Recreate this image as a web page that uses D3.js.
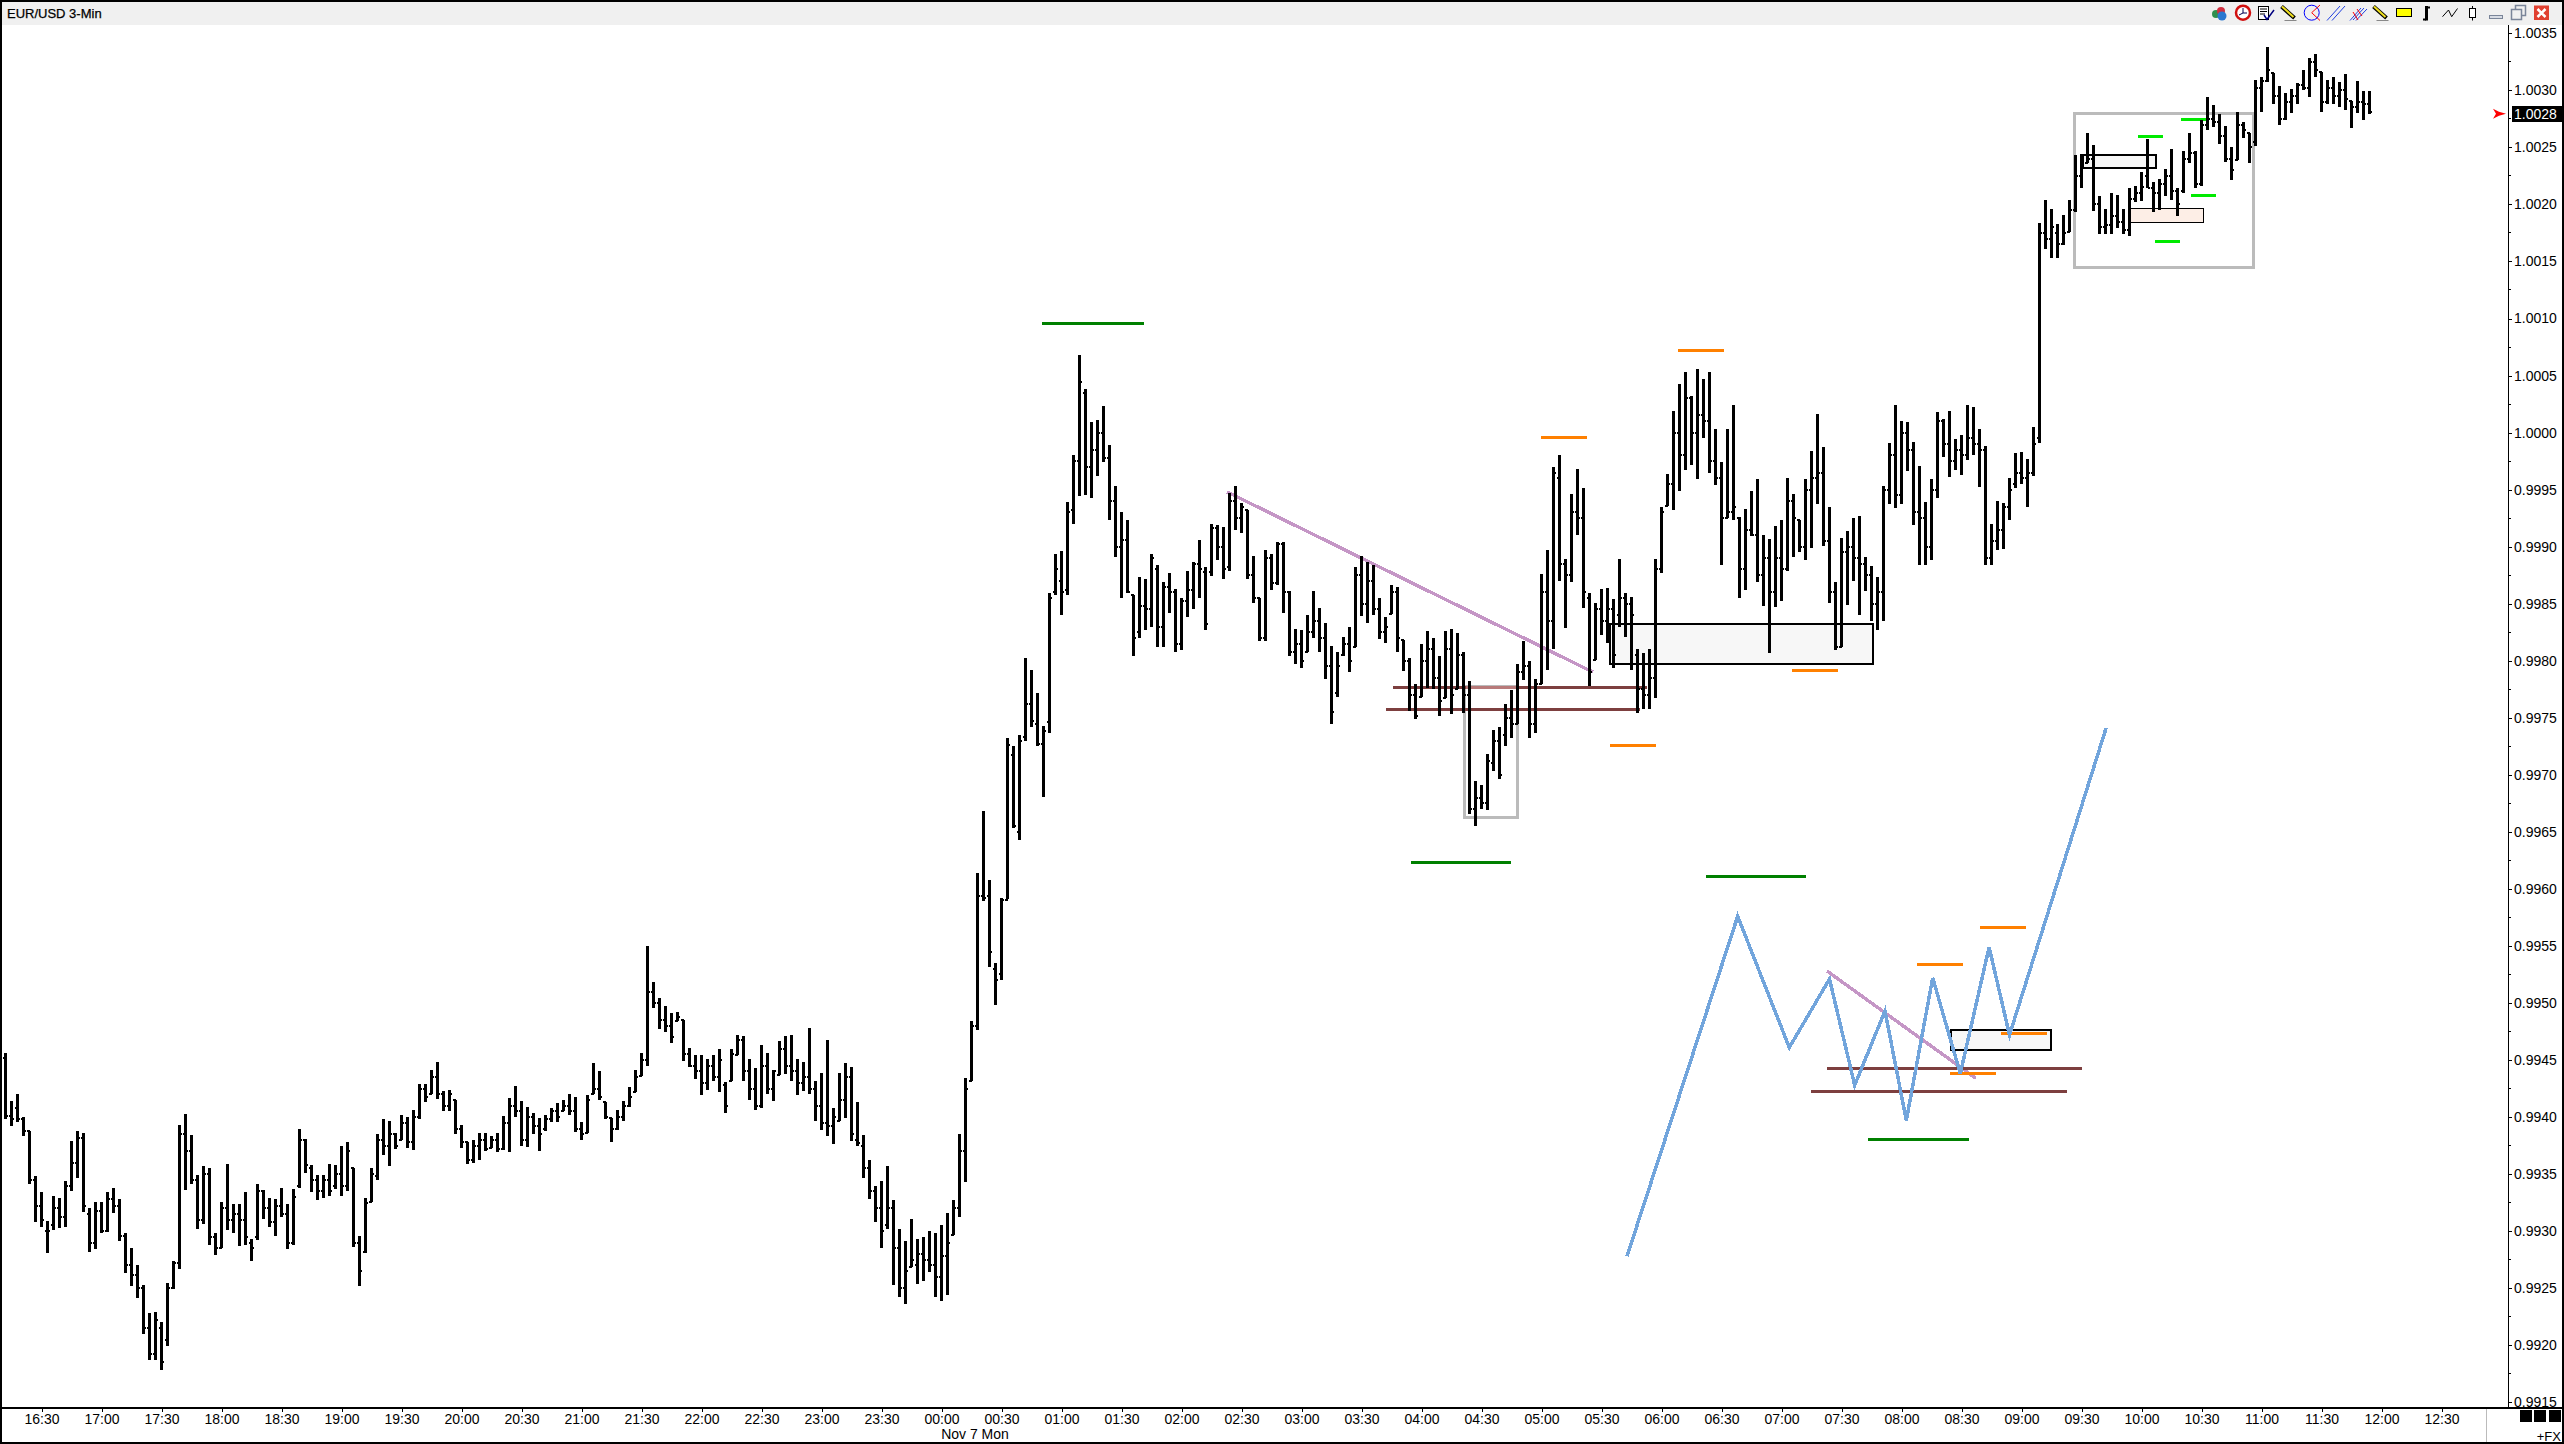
<!DOCTYPE html>
<html><head><meta charset="utf-8">
<script src="https://d3js.org/d3.v7.min.js"></script>
<style>
html,body{margin:0;padding:0;background:#fff;overflow:hidden}
svg{display:block}
text{font-family:"Liberation Sans",Arial,sans-serif;font-size:14px;fill:#000}
</style></head><body>
<svg id="c" width="2564" height="1444"></svg>
<script>
const title="EUR/USD 3-Min", dateLabel="Nov 7 Mon", lastPrice=1.0028;
const timeLabels=["16:30","17:00","17:30","18:00","18:30","19:00","19:30","20:00","20:30","21:00","21:30","22:00","22:30","23:00","23:30","00:00","00:30","01:00","01:30","02:00","02:30","03:00","03:30","04:00","04:30","05:00","05:30","06:00","06:30","07:00","07:30","08:00","08:30","09:00","09:30","10:00","10:30","11:00","11:30","12:00","12:30"];
const priceLabels=["1.0035","1.0030","1.0025","1.0020","1.0015","1.0010","1.0005","1.0000","0.9995","0.9990","0.9985","0.9980","0.9975","0.9970","0.9965","0.9960","0.9955","0.9950","0.9945","0.9940","0.9935","0.9930","0.9925","0.9920","0.9915"];
const highs=[0.99456,0.99414,0.99420,0.99400,0.99388,0.99348,0.99334,0.99309,0.99331,0.99329,0.99344,0.99379,0.99388,0.99386,0.99320,0.99326,0.99326,0.99334,0.99338,0.99328,0.99298,0.99285,0.99270,0.99253,0.99228,0.99229,0.99220,0.99255,0.99274,0.99393,0.99403,0.99384,0.99349,0.99357,0.99355,0.99298,0.99326,0.99359,0.99324,0.99324,0.99334,0.99293,0.99341,0.99336,0.99329,0.99328,0.99338,0.99324,0.99337,0.99390,0.99381,0.99358,0.99349,0.99349,0.99359,0.99358,0.99375,0.99378,0.99355,0.99296,0.99329,0.99355,0.99385,0.99398,0.99397,0.99386,0.99402,0.99400,0.99406,0.99429,0.99429,0.99441,0.99448,0.99423,0.99424,0.99415,0.99393,0.99378,0.99380,0.99386,0.99386,0.99383,0.99386,0.99401,0.99417,0.99427,0.99414,0.99409,0.99404,0.99399,0.99402,0.99408,0.99412,0.99415,0.99420,0.99418,0.99396,0.99419,0.99447,0.99440,0.99413,0.99399,0.99406,0.99414,0.99426,0.99441,
0.99456,0.99550,0.99518,0.99504,0.99497,0.99491,0.99492,0.99485,0.99461,0.99454,0.99454,0.99451,0.99454,0.99460,0.99431,0.99460,0.99472,0.99471,0.99451,0.99443,0.99463,0.99456,0.99441,0.99467,0.99471,0.99472,0.99451,0.99448,0.99478,0.99432,0.99439,0.99468,0.99408,0.99439,0.99447,0.99444,0.99413,0.99384,0.99362,0.99340,0.99344,0.99357,0.99327,0.99302,0.99291,0.99311,0.99293,0.99295,0.99300,0.99298,0.99305,0.99316,0.99327,0.99385,0.99434,0.99484,0.99614,0.99668,0.99608,0.99535,0.99592,
0.99732,0.99725,0.99735,0.99802,0.99792,0.99772,0.99743,0.99859,0.99894,0.99896,0.99939,0.99980,1.00068,1.00038,1.00009,1.00011,1.00023,0.99989,0.99953,0.99930,0.99923,0.99858,0.99873,0.99872,0.99894,0.99884,0.99869,0.99877,0.99863,0.99855,0.99879,0.99887,0.99906,0.99882,0.99920,0.99919,0.99917,0.99947,0.99953,0.99938,0.99932,0.99892,0.99855,0.99897,0.99894,0.99904,0.99904,0.99861,0.99828,0.99827,0.99840,0.99861,0.99846,0.99833,0.99813,0.99808,0.99821,0.99830,0.99882,0.99892,0.99887,0.99884,0.99855,0.99838,0.99866,0.99865,0.99818,0.99802,0.99780,0.99815,0.99826,0.99820,0.99804,0.99826,0.99828,0.99824,0.99808,0.99782,0.99695,0.99691,0.99718,0.99739,0.99742,0.99762,0.99774,0.99797,0.99817,0.99800,0.99784,0.99876,0.99897,0.99970,0.99980,
0.99889,0.99946,0.99968,0.99951,0.99859,0.99851,0.99863,0.99864,0.99854,0.99889,0.99859,0.99856,0.99810,0.99807,0.99810,0.99889,0.99935,0.99964,1.00019,1.00043,1.00053,1.00032,1.00056,1.00047,1.00053,1.00003,0.99974,1.00003,1.00024,0.99926,0.99933,0.99949,0.99959,0.99910,0.99907,0.99918,0.99923,0.99960,0.99946,0.99923,0.99959,0.99984,1.00016,0.99987,0.99935,0.99869,0.99908,0.99914,0.99925,0.99927,0.99891,0.99883,0.99873,0.99953,0.99991,1.00024,1.00010,1.00009,0.99992,0.99971,0.99939,0.99959,1.00018,1.00012,1.00019,0.99994,0.99998,1.00024,1.00022,1.00003,0.99988,0.99920,0.99940,0.99938,0.99960,0.99982,0.99983,0.99977,1.00005,1.00184,
1.00204,1.00196,1.00183,1.00191,1.00204,1.00243,1.00244,1.00263,1.00252,1.00207,1.00196,1.00210,1.00208,1.00196,1.00214,1.00216,1.00228,1.00257,1.00220,1.00222,1.00231,1.00249,1.00214,1.00247,1.00263,1.00247,1.00274,1.00294,1.00287,1.00279,1.00269,1.00250,1.00281,1.00272,1.00263,1.00309,1.00312,1.00338,1.00315,1.00304,1.00298,1.00301,1.00306,1.00318,1.00328,1.00332,1.00316,1.00309,1.00312,1.00307,1.00314,1.00291,1.00308,1.00299,1.00299];
const lows=[0.99398,0.99392,0.99396,0.99383,0.99341,0.99308,0.99304,0.99281,0.99301,0.99303,0.99304,0.99335,0.99347,0.99317,0.99282,0.99284,0.99298,0.99299,0.99316,0.99291,0.99263,0.99252,0.99241,0.99210,0.99187,0.99187,0.99178,0.99199,0.99249,0.99267,0.99336,0.99341,0.99302,0.99306,0.99288,0.99279,0.99285,0.99301,0.99298,0.99287,0.99288,0.99274,0.99292,0.99311,0.99304,0.99296,0.99312,0.99284,0.99288,0.99338,0.99351,0.99334,0.99327,0.99329,0.99331,0.99337,0.99331,0.99335,0.99286,0.99252,0.99281,0.99326,0.99345,0.99367,0.99357,0.99372,0.99380,0.99373,0.99371,0.99398,0.99413,0.99420,0.99416,0.99405,0.99405,0.99385,0.99373,0.99359,0.99360,0.99362,0.99370,0.99373,0.99369,0.99371,0.99369,0.99400,0.99375,0.99374,0.99385,0.99370,0.99388,0.99396,0.99396,0.99405,0.99402,0.99387,0.99380,0.99386,0.99420,0.99415,0.99398,0.99378,0.99389,0.99397,0.99409,0.99422,
0.99436,0.99445,0.99496,0.99477,0.99475,0.99465,0.99484,0.99449,0.99444,0.99433,0.99419,0.99424,0.99432,0.99422,0.99404,0.99432,0.99454,0.99432,0.99415,0.99406,0.99408,0.99420,0.99414,0.99437,0.99438,0.99432,0.99419,0.99423,0.99420,0.99397,0.99389,0.99383,0.99376,0.99397,0.99399,0.99379,0.99375,0.99347,0.99328,0.99308,0.99285,0.99302,0.99253,0.99242,0.99236,0.99269,0.99254,0.99256,0.99264,0.99242,0.99239,0.99244,0.99297,0.99312,0.99343,0.99432,0.99476,0.99589,0.99532,0.99498,0.99520,
0.99591,0.99653,0.99643,0.99730,0.99742,0.99725,0.99681,0.99737,0.99858,0.99840,0.99858,0.99920,0.99944,0.99945,0.99943,0.99962,0.99974,0.99923,0.99891,0.99855,0.99859,0.99804,0.99820,0.99827,0.99830,0.99812,0.99812,0.99842,0.99808,0.99809,0.99838,0.99845,0.99855,0.99827,0.99874,0.99888,0.99872,0.99879,0.99915,0.99912,0.99872,0.99851,0.99817,0.99817,0.99862,0.99866,0.99842,0.99804,0.99797,0.99794,0.99808,0.99820,0.99808,0.99784,0.99745,0.99768,0.99804,0.99790,0.99812,0.99839,0.99833,0.99840,0.99819,0.99816,0.99841,0.99808,0.99791,0.99756,0.99749,0.99768,0.99776,0.99775,0.99752,0.99767,0.99753,0.99775,0.99754,0.99666,0.99655,0.99670,0.99669,0.99703,0.99696,0.99725,0.99732,0.99745,0.99783,0.99732,0.99737,0.99780,0.99792,0.99810,0.99870,
0.99829,0.99869,0.99910,0.99846,0.99778,0.99801,0.99823,0.99816,0.99794,0.99830,0.99821,0.99792,0.99754,0.99758,0.99758,0.99767,0.99877,0.99936,0.99932,0.99949,0.99967,0.99972,0.99959,0.99995,0.99965,0.99954,0.99884,0.99925,0.99923,0.99855,0.99862,0.99909,0.99869,0.99848,0.99807,0.99847,0.99852,0.99879,0.99891,0.99895,0.99888,0.99899,0.99937,0.99901,0.99851,0.99809,0.99812,0.99849,0.99870,0.99840,0.99861,0.99835,0.99827,0.99835,0.99937,0.99934,0.99937,0.99966,0.99919,0.99884,0.99884,0.99888,0.99943,0.99979,0.99961,0.99967,0.99963,0.99976,0.99980,0.99952,0.99884,0.99884,0.99897,0.99898,0.99923,0.99951,0.99955,0.99935,0.99962,0.99991,
1.00161,1.00153,1.00153,1.00164,1.00176,1.00193,1.00214,1.00236,1.00194,1.00174,1.00174,1.00174,1.00179,1.00174,1.00172,1.00202,1.00203,1.00214,1.00193,1.00195,1.00207,1.00204,1.00190,1.00210,1.00236,1.00214,1.00216,1.00265,1.00268,1.00253,1.00237,1.00221,1.00239,1.00258,1.00236,1.00251,1.00281,1.00307,1.00288,1.00270,1.00274,1.00280,1.00288,1.00300,1.00294,1.00312,1.00281,1.00288,1.00288,1.00285,1.00283,1.00267,1.00280,1.00274,1.00279];
const opens=[0.99452,0.99401,0.99408,0.99398,0.99388,0.99345,0.99322,0.99300,0.99305,0.99320,0.99312,0.99340,0.99360,0.99382,0.99315,0.99290,0.99318,0.99300,0.99328,0.99322,0.99296,0.99270,0.99262,0.99250,0.99215,0.99192,0.99215,0.99205,0.99250,0.99272,0.99385,0.99370,0.99345,0.99310,0.99350,0.99295,0.99285,0.99320,0.99310,0.99315,0.99310,0.99290,0.99295,0.99335,0.99320,0.99308,0.99322,0.99315,0.99290,0.99340,0.99380,0.99355,0.99345,0.99335,0.99345,0.99340,0.99350,0.99340,0.99355,0.99290,0.99282,0.99326,0.99348,0.99380,0.99375,0.99385,0.99380,0.99395,0.99378,0.99400,0.99425,0.99420,0.99435,0.99420,0.99410,0.99415,0.99390,0.99378,0.99362,0.99375,0.99380,0.99373,0.99380,0.99372,0.99395,0.99410,0.99405,0.99380,0.99400,0.99392,0.99390,0.99398,0.99405,0.99405,0.99410,0.99405,0.99390,0.99386,0.99420,0.99425,0.99413,0.99399,0.99390,0.99400,0.99410,0.99422,
0.99436,0.99450,0.99510,0.99500,0.99485,0.99480,0.99484,0.99485,0.99455,0.99445,0.99440,0.99430,0.99445,0.99435,0.99428,0.99432,0.99454,0.99468,0.99440,0.99425,0.99410,0.99445,0.99425,0.99437,0.99460,0.99445,0.99440,0.99430,0.99435,0.99425,0.99410,0.99395,0.99392,0.99397,0.99415,0.99435,0.99380,0.99375,0.99355,0.99335,0.99320,0.99305,0.99320,0.99285,0.99250,0.99269,0.99270,0.99280,0.99275,0.99270,0.99260,0.99278,0.99297,0.99320,0.99370,0.99432,0.99480,0.99594,0.99594,0.99530,0.99525,
0.99590,0.99717,0.99650,0.99733,0.99762,0.99745,0.99727,0.99746,0.99860,0.99870,0.99862,0.99932,0.99975,1.00035,0.99970,0.99985,1.00000,0.99978,0.99940,0.99900,0.99906,0.99858,0.99825,0.99848,0.99845,0.99880,0.99830,0.99865,0.99860,0.99815,0.99852,0.99862,0.99885,0.99878,0.99878,0.99916,0.99900,0.99882,0.99940,0.99925,0.99932,0.99875,0.99855,0.99820,0.99890,0.99868,0.99902,0.99860,0.99808,0.99815,0.99808,0.99825,0.99835,0.99820,0.99795,0.99772,0.99805,0.99815,0.99812,0.99875,0.99850,0.99870,0.99845,0.99825,0.99841,0.99860,0.99818,0.99800,0.99770,0.99768,0.99800,0.99810,0.99785,0.99767,0.99810,0.99775,0.99805,0.99770,0.99670,0.99680,0.99675,0.99710,0.99730,0.99735,0.99750,0.99745,0.99790,0.99795,0.99745,0.99780,0.99860,0.99835,0.99960,
0.99885,0.99875,0.99930,0.99925,0.99855,0.99801,0.99845,0.99835,0.99845,0.99840,0.99855,0.99850,0.99805,0.99775,0.99770,0.99785,0.99880,0.99936,0.99955,1.00000,0.99980,1.00030,1.00000,1.00015,1.00010,0.99975,0.99960,0.99925,0.99930,0.99925,0.99880,0.99915,0.99910,0.99875,0.99890,0.99860,0.99890,0.99880,0.99940,0.99923,0.99900,0.99950,0.99960,0.99965,0.99905,0.99860,0.99812,0.99895,0.99900,0.99890,0.99885,0.99875,0.99850,0.99860,0.99950,0.99980,0.99945,1.00000,0.99985,0.99930,0.99925,0.99900,0.99950,1.00010,0.99990,0.99975,0.99985,0.99980,0.99995,0.99990,0.99985,0.99890,0.99905,0.99915,0.99935,0.99955,0.99965,0.99960,0.99965,0.99995,
1.00175,1.00170,1.00175,1.00165,1.00176,1.00195,1.00225,1.00236,1.00240,1.00200,1.00180,1.00182,1.00190,1.00185,1.00178,1.00205,1.00210,1.00225,1.00214,1.00210,1.00218,1.00225,1.00212,1.00212,1.00240,1.00245,1.00218,1.00270,1.00275,1.00272,1.00260,1.00240,1.00239,1.00270,1.00263,1.00255,1.00302,1.00308,1.00315,1.00295,1.00275,1.00290,1.00295,1.00305,1.00302,1.00325,1.00316,1.00290,1.00302,1.00295,1.00300,1.00291,1.00285,1.00290,1.00288];
const closes=[0.99401,0.99398,0.99398,0.99388,0.99345,0.99322,0.99310,0.99300,0.99320,0.99312,0.99340,0.99360,0.99382,0.99322,0.99290,0.99318,0.99300,0.99328,0.99322,0.99296,0.99270,0.99262,0.99250,0.99215,0.99192,0.99222,0.99185,0.99250,0.99272,0.99385,0.99370,0.99345,0.99310,0.99350,0.99295,0.99285,0.99320,0.99310,0.99315,0.99310,0.99295,0.99285,0.99335,0.99320,0.99308,0.99322,0.99315,0.99290,0.99330,0.99380,0.99358,0.99345,0.99335,0.99345,0.99335,0.99350,0.99340,0.99370,0.99290,0.99265,0.99325,0.99350,0.99380,0.99375,0.99385,0.99375,0.99395,0.99378,0.99400,0.99425,0.99418,0.99435,0.99420,0.99410,0.99420,0.99390,0.99378,0.99362,0.99375,0.99380,0.99372,0.99380,0.99372,0.99395,0.99410,0.99405,0.99380,0.99400,0.99392,0.99385,0.99398,0.99405,0.99400,0.99410,0.99405,0.99390,0.99385,0.99415,0.99425,0.99418,0.99400,0.99390,0.99400,0.99410,0.99418,0.99435,
0.99450,0.99510,0.99500,0.99485,0.99480,0.99470,0.99488,0.99455,0.99445,0.99440,0.99430,0.99445,0.99435,0.99450,0.99410,0.99455,0.99468,0.99440,0.99425,0.99410,0.99445,0.99425,0.99440,0.99460,0.99445,0.99440,0.99430,0.99435,0.99425,0.99410,0.99395,0.99392,0.99400,0.99415,0.99435,0.99385,0.99377,0.99355,0.99335,0.99320,0.99300,0.99320,0.99285,0.99250,0.99265,0.99275,0.99280,0.99275,0.99270,0.99260,0.99278,0.99290,0.99320,0.99370,0.99425,0.99480,0.99594,0.99592,0.99545,0.99520,0.99590,
0.99726,0.99655,0.99730,0.99762,0.99747,0.99727,0.99738,0.99855,0.99880,0.99860,0.99930,0.99975,1.00044,0.99970,0.99985,1.00000,0.99978,0.99940,0.99900,0.99906,0.99860,0.99820,0.99848,0.99845,0.99890,0.99830,0.99865,0.99860,0.99815,0.99852,0.99862,0.99885,0.99880,0.99832,0.99916,0.99900,0.99880,0.99940,0.99925,0.99935,0.99875,0.99855,0.99820,0.99890,0.99868,0.99902,0.99860,0.99808,0.99815,0.99800,0.99825,0.99835,0.99820,0.99795,0.99755,0.99795,0.99815,0.99800,0.99875,0.99850,0.99870,0.99845,0.99825,0.99830,0.99860,0.99820,0.99800,0.99770,0.99752,0.99800,0.99810,0.99785,0.99765,0.99810,0.99770,0.99805,0.99770,0.99670,0.99680,0.99675,0.99712,0.99730,0.99700,0.99750,0.99745,0.99790,0.99795,0.99745,0.99780,0.99860,0.99835,0.99965,0.99885,
0.99875,0.99930,0.99925,0.99860,0.99790,0.99845,0.99835,0.99845,0.99805,0.99855,0.99850,0.99840,0.99775,0.99770,0.99785,0.99880,0.99930,0.99955,1.00000,0.99980,1.00030,1.00000,1.00015,1.00010,0.99975,0.99960,0.99925,0.99930,0.99935,0.99880,0.99915,0.99910,0.99875,0.99890,0.99860,0.99890,0.99880,0.99940,0.99925,0.99900,0.99950,0.99960,0.99965,0.99905,0.99860,0.99812,0.99895,0.99900,0.99890,0.99885,0.99875,0.99850,0.99860,0.99950,0.99980,0.99945,1.00000,0.99985,0.99930,0.99925,0.99900,0.99950,1.00010,0.99990,0.99975,0.99985,0.99980,0.99995,0.99990,0.99985,0.99890,0.99905,0.99915,0.99935,0.99950,0.99965,0.99960,0.99965,0.99990,1.00175,
1.00170,1.00180,1.00165,1.00175,1.00195,1.00225,1.00235,1.00240,1.00200,1.00180,1.00182,1.00190,1.00185,1.00178,1.00205,1.00210,1.00215,1.00214,1.00210,1.00218,1.00225,1.00212,1.00200,1.00240,1.00245,1.00218,1.00270,1.00275,1.00272,1.00260,1.00240,1.00230,1.00270,1.00265,1.00250,1.00302,1.00308,1.00318,1.00295,1.00275,1.00290,1.00295,1.00305,1.00302,1.00325,1.00318,1.00290,1.00302,1.00295,1.00300,1.00292,1.00285,1.00290,1.00288,1.00281];

// Annotations: [startBar, endBar, price]
const darkGreenLevels=[[172.8,189.7,1.00096],[234.25,250.9,0.99624],[283.4,300.1,0.99611],[310.4,327.2,0.99381]];
const orangeLevels=[[255.9,263.6,0.99996],[278.75,286.4,1.00072],[297.75,305.4,0.99792],[267.4,275.1,0.99726],[318.55,326.3,0.99534],[329,336.8,0.99567],[324,331.75,0.99439],[332.5,340.3,0.99474]];
const maroonLevels=[[231.25,273.5,0.99777],[230.1,272.4,0.99758],[303.5,346.1,0.99443],[300.9,343.5,0.99423]];
const brightGreenLevels=[[355.4,359.6,1.00260],[362.6,366.75,1.00275],[364.25,368.4,1.00208],[358.25,362.4,1.00168]];
// Boxes: [startBar, endBar, topPrice, bottomPrice]
const greyBoxes=[[243.1,252,0.99777,0.99663],[344.9,374.6,1.00280,1.00145]];
const greyFillBoxes=[[267.4,311.25,0.99832,0.99797],[346.25,358.4,1.00243,1.00232],[324.2,340.9,0.99476,0.99459]];
const pinkBoxes=[[354.2,366.4,1.00196,1.00184]];
// Trend lines: [bar, price] pairs
const trendLines=[[[203.6,0.99948],[264.6,0.99790]],[[303.6,0.99528],[328.4,0.99434]]];
const schematicBars=[270.25,288.7,297.3,304,308.2,313.25,316.8,321.2,325.8,330.6,334,350.1];
const schematicPrices=[0.99278,0.99576,0.99461,0.99521,0.99428,0.99493,0.99397,0.99522,0.99438,0.99549,0.99472,0.99741];

const svg=d3.select("#c");
const x=d3.scaleLinear().domain([0,396]).range([5.5,2381.5]);
const y=d3.scaleLinear().domain([0.9915,1.0035]).range([1402.3,33.3]);
const C={dg:"#008000",or:"#ff8000",ma:"#7d3f3f",bg:"#00ea00",gr:"#bbbbbb",pu:"#c596c6",bl:"#72a5dc"};

// chrome
svg.append("rect").attr("x",0).attr("y",0).attr("width",2564).attr("height",25).attr("fill","#f0f0f0");

const seg=(sel,data,color,w)=>sel.append("g").attr("shape-rendering","crispEdges").selectAll("line").data(data).join("line")
  .attr("x1",d=>x(d[0])).attr("x2",d=>x(d[1])).attr("y1",d=>Math.round(y(d[2]))+0.5).attr("y2",d=>Math.round(y(d[2]))+0.5)
  .attr("stroke",color).attr("stroke-width",w);
const box=(data,stroke,w,fill)=>svg.append("g").attr("shape-rendering","crispEdges").selectAll("rect").data(data).join("rect")
  .attr("x",d=>x(d[0])).attr("width",d=>x(d[1])-x(d[0])).attr("y",d=>y(d[2])).attr("height",d=>y(d[3])-y(d[2]))
  .attr("fill",fill).attr("stroke",stroke).attr("stroke-width",w);

box(greyBoxes,C.gr,3,"none");
box(greyFillBoxes,"#000",2,"#f7f7f7");
box(pinkBoxes,"#000",1,"#fdeee6");
const line=d3.line().x(d=>x(d[0])).y(d=>y(d[1]));
svg.append("g").attr("shape-rendering","crispEdges").selectAll("path").data(trendLines).join("path")
  .attr("d",line).attr("fill","none").attr("stroke",C.pu).attr("stroke-width",3.4);
seg(svg,maroonLevels,C.ma,3);
// where the grey box top runs over the maroon level, the screen colour lightens
svg.append("line").attr("shape-rendering","crispEdges").attr("x1",x(greyBoxes[0][0])+2).attr("x2",x(greyBoxes[0][1])-2)
  .attr("y1",Math.round(y(maroonLevels[0][2]))+0.5).attr("y2",Math.round(y(maroonLevels[0][2]))+0.5).attr("stroke","#b87a7a").attr("stroke-width",3);
seg(svg,darkGreenLevels,C.dg,3);
seg(svg,orangeLevels,C.or,3);
seg(svg,brightGreenLevels,C.bg,3);

// bars
const bars=d3.range(highs.length);
const gb=svg.append("g").attr("shape-rendering","crispEdges").attr("stroke","#000");
gb.selectAll("line.h").data(bars).join("line").attr("class","h")
  .attr("x1",k=>x(k)).attr("x2",k=>x(k)).attr("y1",k=>y(highs[k])).attr("y2",k=>y(lows[k])).attr("stroke-width",3);
gb.selectAll("line.o").data(bars).join("line").attr("class","o")
  .attr("x1",k=>x(k)-2.5).attr("x2",k=>x(k)).attr("y1",k=>Math.round(y(opens[k]))).attr("y2",k=>Math.round(y(opens[k]))).attr("stroke-width",2);
gb.selectAll("line.c").data(bars).join("line").attr("class","c")
  .attr("x1",k=>x(k)).attr("x2",k=>x(k)+2.5).attr("y1",k=>Math.round(y(closes[k]))).attr("y2",k=>Math.round(y(closes[k]))).attr("stroke-width",2);

// schematic drawn over the bars' layer
svg.append("path").attr("shape-rendering","crispEdges")
  .datum(schematicBars.map((b,i)=>[b,schematicPrices[i]])).attr("d",line).attr("fill","none").attr("stroke",C.bl).attr("stroke-width",3.5);

// Time axis
const tickBars=timeLabels.map((_,i)=>6+10*i);
const xAxis=d3.axisBottom(x).tickValues(tickBars).tickFormat((d,i)=>timeLabels[i]).tickSize(4).tickSizeOuter(0).tickPadding(1);
const gx=svg.append("g").attr("transform","translate(0,1408)").call(xAxis);
gx.select(".domain").remove();
gx.selectAll("line").attr("stroke","#000").attr("shape-rendering","crispEdges");
gx.selectAll("text").attr("fill","#000").style("font","14px 'Liberation Sans'").attr("dy","0.75em");
svg.append("line").attr("x1",0).attr("x2",2564).attr("y1",1408).attr("y2",1408).attr("stroke","#000").attr("stroke-width",2).attr("shape-rendering","crispEdges");
svg.append("text").attr("x",975).attr("y",1439).attr("text-anchor","middle").text(dateLabel);

// Price axis
const majorVals=priceLabels.map(Number);
const minorVals=majorVals.slice(0,-1).map((v,i)=>(v+majorVals[i+1])/2);
const yAxis=d3.axisRight(y).tickValues(majorVals).tickFormat((d,i)=>priceLabels[i]).tickSize(4).tickSizeOuter(0).tickPadding(2);
const gy=svg.append("g").attr("transform","translate(2508,0)").call(yAxis);
gy.select(".domain").remove();
gy.selectAll("line").attr("stroke","#000").attr("shape-rendering","crispEdges");
gy.selectAll("text").attr("fill","#000").style("font","14px 'Liberation Sans'");
svg.append("g").selectAll("line").data(minorVals).join("line").attr("shape-rendering","crispEdges")
  .attr("x1",2508).attr("x2",2511).attr("y1",d=>y(d)).attr("y2",d=>y(d)).attr("stroke","#000");
svg.append("line").attr("x1",2508.5).attr("x2",2508.5).attr("y1",25).attr("y2",1408).attr("stroke","#000").attr("shape-rendering","crispEdges");

// Last price
const ly=y(lastPrice)+0.5;
svg.append("rect").attr("x",2512).attr("y",Math.round(ly)-8).attr("width",50).attr("height",16).attr("fill","#000");
svg.append("text").attr("x",2514).attr("y",Math.round(ly)+5).style("fill","#fff").text(d3.format(".4f")(lastPrice));
svg.append("path").attr("d",`M2493 ${ly-5}L2499 ${ly-2}L2506 ${ly}L2499 ${ly+2}L2493 ${ly+5}L2496 ${ly}Z`).attr("fill","#ff0000");

// Bottom-right chrome
svg.append("line").attr("x1",2486.5).attr("x2",2486.5).attr("y1",1409).attr("y2",1442).attr("stroke","#bbb");
svg.append("g").selectAll("rect").data([2520,2534,2549]).join("rect").attr("x",d=>d).attr("y",1410).attr("width",12).attr("height",12).attr("fill","#000");
svg.append("text").attr("x",2561).attr("y",1441).attr("text-anchor","end").style("font-size","13px").text("+FX");

// Title
svg.append("text").attr("x",7).attr("y",18).style("font-size","13px").style("stroke","#000").style("stroke-width","0.25px").text(title);

// Toolbar icons
const ic=svg.append("g").attr("fill","none");
ic.append("circle").attr("cx",2216).attr("cy",14).attr("r",4).attr("fill","#2f8f4f");
ic.append("circle").attr("cx",2221).attr("cy",11).attr("r",4).attr("fill","#d03040");
ic.append("circle").attr("cx",2222).attr("cy",16).attr("r",4.5).attr("fill","#2a78d0");
ic.append("circle").attr("cx",2243).attr("cy",12.7).attr("r",7).attr("fill","#fff").attr("stroke","#d01010").attr("stroke-width",2.5);
ic.append("path").attr("d","M2243 8V13L2239 15M2243 13H2247").attr("stroke","#000050");
ic.append("rect").attr("x",2258.5).attr("y",6.5).attr("width",10).attr("height",13).attr("fill","#fff").attr("stroke","#000");
ic.append("path").attr("d","M2260 9H2267M2260 11.5H2267M2260 14H2265").attr("stroke","#000");
ic.append("path").attr("d","M2264 15L2267 19.5L2274 10").attr("stroke","#000080").attr("stroke-width",1.5);
[2281.5,2373.5].forEach(p=>{
  ic.append("path").attr("d",`M${p} 6.5L${p+13} 18`).attr("stroke","#000").attr("stroke-width",4);
  ic.append("path").attr("d",`M${p+0.5} 6.5L${p+12} 17`).attr("stroke","#f0e020").attr("stroke-width",2);
  ic.append("path").attr("d",`M${p+3} 20.5H${p+15}`).attr("stroke","#888");
});
ic.append("circle").attr("cx",2311.7).attr("cy",12.7).attr("r",7.5).attr("stroke","#0000ff");
ic.append("path").attr("d","M2320 5L2311.7 12.7L2320 20.5").attr("stroke","#ff0000");
ic.append("path").attr("d","M2327 20.5L2340 6M2332 20.5L2345 6").attr("stroke","#2040e0");
ic.append("path").attr("d","M2350 20.5L2361 8M2353 20L2364 8M2356 20.5L2367 9").attr("stroke","#2040e0");
ic.append("path").attr("d","M2353 12L2358 20M2357 9L2362 16").attr("stroke","#ff0000");
ic.append("rect").attr("x",2396.5).attr("y",8.5).attr("width",15).attr("height",8).attr("fill","#ffff00").attr("stroke","#000");
ic.append("path").attr("d","M2426.5 6V20.5").attr("stroke","#000").attr("stroke-width",3);
ic.append("path").attr("d","M2428 7.5H2430M2423 19.5H2426").attr("stroke","#000").attr("stroke-width",2);
ic.append("path").attr("d","M2442.5 16.7L2448.5 10L2451.7 16.7L2457.5 8.5").attr("stroke","#000");
ic.append("path").attr("d","M2472.5 6V20.5").attr("stroke","#000");
ic.append("rect").attr("x",2469.5).attr("y",8.5).attr("width",6).attr("height",9).attr("fill","#fff").attr("stroke","#000");
ic.append("rect").attr("x",2489.5).attr("y",15.5).attr("width",13).attr("height",3).attr("fill","#d8dce4").attr("stroke","#7a8599");
ic.append("rect").attr("x",2515.5).attr("y",5.5).attr("width",10).attr("height",10).attr("stroke","#7a8599").attr("stroke-width",1.5);
ic.append("rect").attr("x",2511.5).attr("y",9.5).attr("width",10).attr("height",10).attr("fill","#f0f0f0").attr("stroke","#7a8599").attr("stroke-width",1.5);
ic.append("rect").attr("x",2534).attr("y",5.5).attr("width",15).attr("height",14.5).attr("fill","#e04030");
ic.append("path").attr("d","M2537.5 9L2545.5 17M2545.5 9L2537.5 17").attr("stroke","#fff").attr("stroke-width",2.5);

// Window border
svg.append("rect").attr("x",1).attr("y",1).attr("width",2562).attr("height",1442).attr("fill","none").attr("stroke","#000").attr("stroke-width",2);
</script>
</body></html>
